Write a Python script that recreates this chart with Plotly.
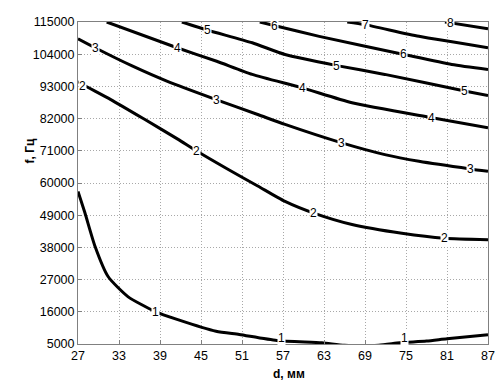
import plotly.graph_objects as go

# Contour lines: d (mm) and f (Hz)
c1_d = [27.0, 28.0, 29.5, 31.4, 34.3, 38.3, 41.6, 47.2, 50.6, 56.1, 62.7, 66.0, 71.0, 74.1, 78.0, 81.0, 87.0]
c1_f = [57100, 49900, 38300, 28050, 21200, 16100, 13350, 9370, 8250, 6200, 5400, 4600, 4600, 5400, 6000, 6780, 8150]
c2_d = [27.0, 27.7, 31.8, 36.8, 41.6, 44.3, 49.0, 53.3, 57.3, 61.5, 67.1, 74.4, 80.6, 87.0]
c2_f = [94670, 93650, 88500, 81670, 75000, 71000, 64600, 58970, 53700, 49700, 45800, 42800, 41100, 40600]
c3_d = [27.0, 29.5, 35.0, 40.0, 47.2, 53.3, 57.3, 65.6, 71.9, 76.9, 84.4, 87.0]
c3_f = [109260, 106200, 99900, 94800, 88500, 83400, 80000, 73700, 69700, 67400, 64800, 64000]
c4_d = [31.2, 41.5, 47.3, 52.5, 59.8, 67.1, 78.8, 87.0]
c4_f = [115000, 106200, 101600, 97100, 92500, 87400, 82300, 78900]
c5_d = [42.2, 46.0, 52.5, 57.3, 64.9, 71.9, 83.6, 87.0]
c5_f = [115000, 112200, 107900, 103900, 100100, 97100, 91400, 89900]
c6_d = [53.6, 55.7, 62.3, 74.7, 81.7, 87.0]
c6_f = [115000, 113800, 110100, 103900, 100500, 98800]
c7_d = [66.4, 69.0, 76.9, 87.0]
c7_f = [115000, 114100, 110100, 106200]
c8_d = [80.7, 81.5, 87.0]
c8_f = [115000, 114700, 112700]

contours = [(c1_d, c1_f), (c2_d, c2_f), (c3_d, c3_f), (c4_d, c4_f),
            (c5_d, c5_f), (c6_d, c6_f), (c7_d, c7_f), (c8_d, c8_f)]

# Contour labels: text, d, f
label_text = ["1", "1", "1", "2", "2", "2", "2", "3", "3", "3", "3", "4", "4", "4", "5", "5", "5", "6", "6", "7", "8"]
label_d = [38.3, 56.8, 74.8, 27.6, 44.3, 61.5, 80.6, 29.5, 47.2, 65.6, 84.4, 41.5, 59.8, 78.8, 46.0, 64.9, 83.6, 55.7, 74.7, 69.0, 81.5]
label_f = [16100, 6900, 6900, 93300, 71000, 49700, 41100, 106200, 88500, 73700, 64800, 106200, 92500, 82300, 112200, 100100, 91400, 113800, 103900, 114100, 114700]

x_ticks = [27, 33, 39, 45, 51, 57, 63, 69, 75, 81, 87]
y_ticks = [5000, 16000, 27000, 38000, 49000, 60000, 71000, 82000, 93000, 104000, 115000]

FONT = "Liberation Sans, Arial, sans-serif"

fig = go.Figure()
for d, f in contours:
    fig.add_trace(go.Scatter(x=d, y=f, mode="lines",
                             line=dict(color="black", width=3, shape="spline", smoothing=0.6),
                             showlegend=False, hoverinfo="skip"))

for t, d, f in zip(label_text, label_d, label_f):
    fig.add_annotation(x=d, y=f, text=t, showarrow=False, bgcolor="white", borderpad=0,
                       font=dict(family=FONT, size=12, color="black"))

axis_common = dict(showgrid=True, gridcolor="#a8a8a8", griddash="1px,2px", gridwidth=1,
                   showline=True, linecolor="#808080", linewidth=1, mirror=True,
                   ticks="inside", ticklen=4, tickcolor="#808080", zeroline=False,
                   automargin=False,
                   tickfont=dict(family=FONT, size=12.5, color="black"))

fig.update_xaxes(range=[27, 87], tickvals=x_ticks, ticktext=[str(v) for v in x_ticks], **axis_common)
fig.update_yaxes(range=[5000, 115000], tickvals=y_ticks, ticktext=[str(v) for v in y_ticks], **axis_common)

fig.add_annotation(xref="paper", yref="paper", x=0.515, y=-0.092, xanchor="center", yanchor="middle",
                   text="<b>d, мм</b>", showarrow=False,
                   font=dict(family=FONT, size=12, color="black"))
fig.add_annotation(xref="paper", yref="paper", x=-0.117, y=0.598, xanchor="center", yanchor="middle",
                   text="<b>f, Гц</b>", showarrow=False,
                   textangle=-90, font=dict(family=FONT, size=12, color="black"))

fig.update_layout(width=504, height=385, margin=dict(l=78, r=16, t=22, b=41),
                  plot_bgcolor="white", paper_bgcolor="white")

fig.write_html("out.html", config={"displayModeBar": False},
               post_script="document.body.style.margin='0';document.body.style.overflow='hidden';")
